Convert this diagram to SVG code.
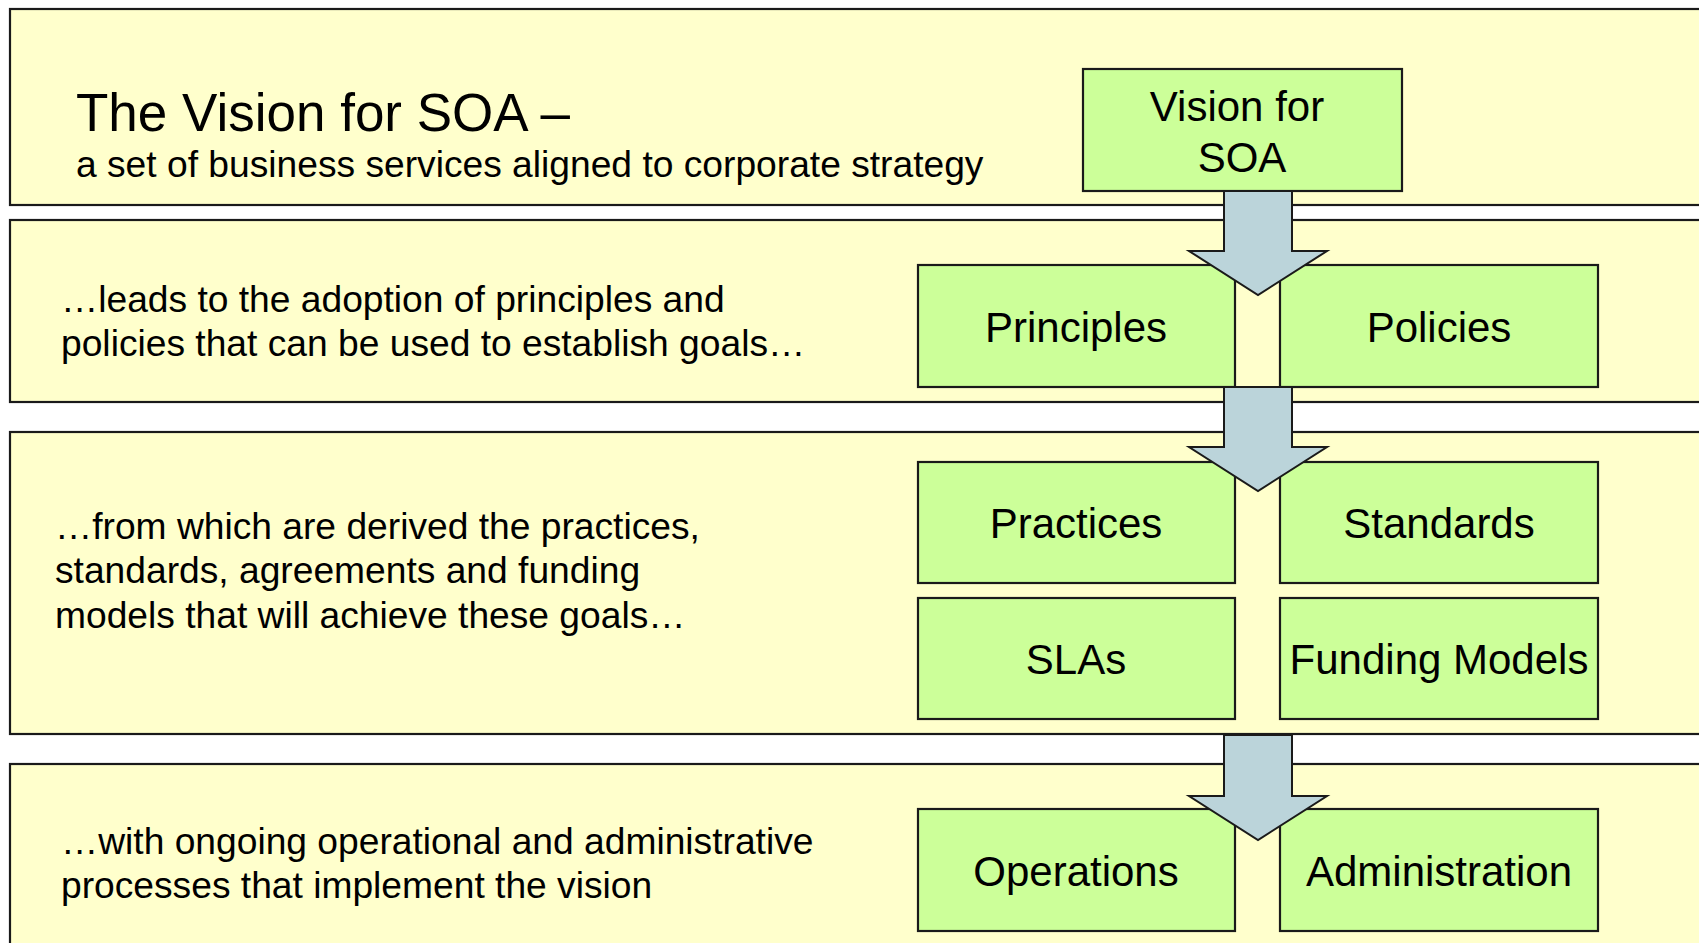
<svg xmlns="http://www.w3.org/2000/svg" width="1699" height="943" viewBox="0 0 1699 943">
<style>
.band{fill:#FFFFCC;stroke:#1a1a1a;stroke-width:2.2}
.box{fill:#CCFF99;stroke:#1a1a1a;stroke-width:2.2}
.arrow{fill:#BBD4DA;stroke:#1a1a1a;stroke-width:2}
.t{font-family:"Liberation Sans",Arial,sans-serif;fill:#000}
.lbl{font-family:"Liberation Sans",Arial,sans-serif;fill:#000;font-size:42px;text-anchor:middle}
.desc{font-size:37.2px}
</style>
<rect width="1699" height="943" fill="#FFFFFF"/>
<g id="band1"><rect class="band" x="10" y="9" width="1720" height="196"/>
<text class="t" x="76" y="131" font-size="53">The Vision for SOA –</text>
<text class="t desc" x="76" y="177">a set of business services aligned to corporate strategy</text></g>
<g id="band2"><rect class="band" x="10" y="220" width="1720" height="182"/>
<text class="t desc" x="61" y="312">…leads to the adoption of principles and</text>
<text class="t desc" x="61" y="356">policies that can be used to establish goals…</text></g>
<g id="band3"><rect class="band" x="10" y="432" width="1720" height="302"/>
<text class="t desc" x="55" y="539">…from which are derived the practices,</text>
<text class="t desc" x="55" y="583">standards, agreements and funding</text>
<text class="t desc" x="55" y="628">models that will achieve these goals…</text></g>
<g id="band4"><rect class="band" x="10" y="764" width="1720" height="200"/>
<text class="t desc" x="61" y="854">…with ongoing operational and administrative</text>
<text class="t desc" x="61" y="898">processes that implement the vision</text></g>
<g id="vision"><rect class="box" x="1083" y="69" width="319" height="122"/>
<text class="lbl" x="1237" y="121">Vision for</text><text class="lbl" x="1242" y="172">SOA</text></g>
<g id="principles"><rect class="box" x="918" y="265" width="317" height="122"/><text class="lbl" x="1076" y="342">Principles</text></g>
<g id="policies"><rect class="box" x="1280" y="265" width="318" height="122"/><text class="lbl" x="1439" y="342">Policies</text></g>
<g id="practices"><rect class="box" x="918" y="462" width="317" height="121"/><text class="lbl" x="1076" y="538">Practices</text></g>
<g id="standards"><rect class="box" x="1280" y="462" width="318" height="121"/><text class="lbl" x="1439" y="538">Standards</text></g>
<g id="slas"><rect class="box" x="918" y="598" width="317" height="121"/><text class="lbl" x="1076" y="674">SLAs</text></g>
<g id="funding"><rect class="box" x="1280" y="598" width="318" height="121"/><text class="lbl" x="1439" y="674">Funding Models</text></g>
<g id="operations"><rect class="box" x="918" y="809" width="317" height="122"/><text class="lbl" x="1076" y="886">Operations</text></g>
<g id="administration"><rect class="box" x="1280" y="809" width="318" height="122"/><text class="lbl" x="1439" y="886">Administration</text></g>
<g id="connectors">
<polygon class="arrow" points="1224,191 1292,191 1292,251 1327,251 1258,295 1189,251 1224,251"/>
<polygon class="arrow" points="1224,387 1292,387 1292,447 1327,447 1258,491 1189,447 1224,447"/>
<polygon class="arrow" points="1224,735 1292,735 1292,796 1327,796 1258,840 1189,796 1224,796"/>
</g>
</svg>
